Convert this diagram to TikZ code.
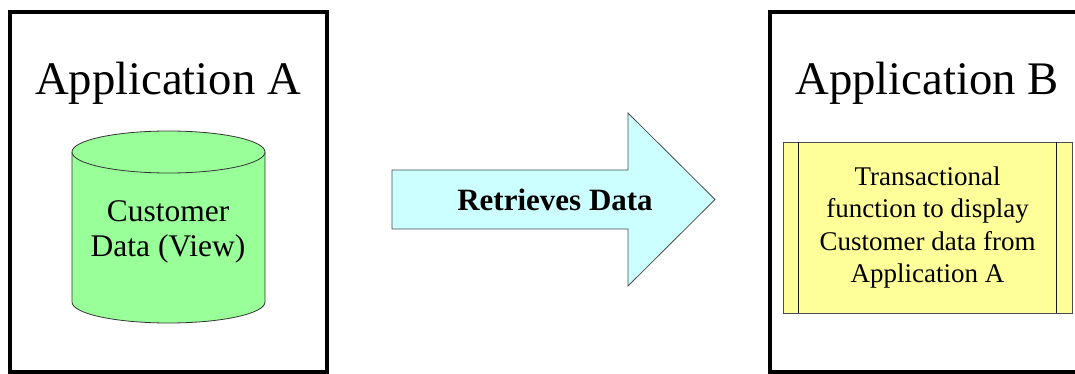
\documentclass[tikz,border=0pt]{standalone}
\usepackage{fontspec}
\setmainfont{Liberation Serif}
\usetikzlibrary{positioning}

\definecolor{cylgreen}{HTML}{99FF99}
\definecolor{arrowcyan}{HTML}{CCFFFF}
\definecolor{procyellow}{HTML}{FFFF99}

\tikzset{
    appbox/.style={draw, line width=4pt},
    apptitle/.style={anchor=base, font=\fontsize{46.7}{50}\selectfont},
    cylbody/.style={draw=black!80, line width=0.8pt, fill=cylgreen},
    arrowbody/.style={draw=black!70, line width=0.8pt, fill=arrowcyan},
    procbox/.style={draw=black!70, line width=0.8pt, fill=procyellow,
        minimum width=289pt, minimum height=171pt, inner sep=0pt}
}

\begin{document}
\begin{tikzpicture}[x=1pt,y=-1pt]
    \useasboundingbox (0,0) rectangle (1075,374);

    % Draw the two application frames
    \draw[appbox] (10,12) rectangle (327,372);
    \draw[appbox] (770,12) rectangle (1100,372);

    \node[apptitle] (titleA) at (168,95) {Application A};
    \node[apptitle] (titleB) at (927,95) {Application B};

    % Customer data cylinder
    \draw[cylbody] (72,152) -- (72,302)
        arc[start angle=180, end angle=0, x radius=96.5, y radius=21] -- (265,152);
    \draw[cylbody] (168.5,152) ellipse [x radius=96.5, y radius=21];
    \node[align=center, font=\fontsize{31.5}{35.5}\selectfont] (custdata) at (168,232)
        {Customer\\Data (View)};

    % Big arrow
    \draw[arrowbody] (392,170) -- (628,170) -- (628,113) -- (715,199.5)
        -- (628,286) -- (628,229) -- (392,229) -- cycle;
    \node[font=\bfseries\fontsize{31}{35}\selectfont] (retrieve) at (555,199.5)
        {Retrieves Data};

    % Transactional function box
    \node[procbox] (proc) at (927.5,227.5) {};
    \draw[black!90, line width=0.8pt] ([xshift=16pt]proc.north west) -- ([xshift=16pt]proc.south west);
    \draw[black!90, line width=0.8pt] ([xshift=-16pt]proc.north east) -- ([xshift=-16pt]proc.south east);
    \node[align=center, font=\fontsize{27}{32.5}\selectfont] (proctext) at (proc.center)
        {Transactional\\function to display\\Customer data from\\Application A};
\end{tikzpicture}
\end{document}
